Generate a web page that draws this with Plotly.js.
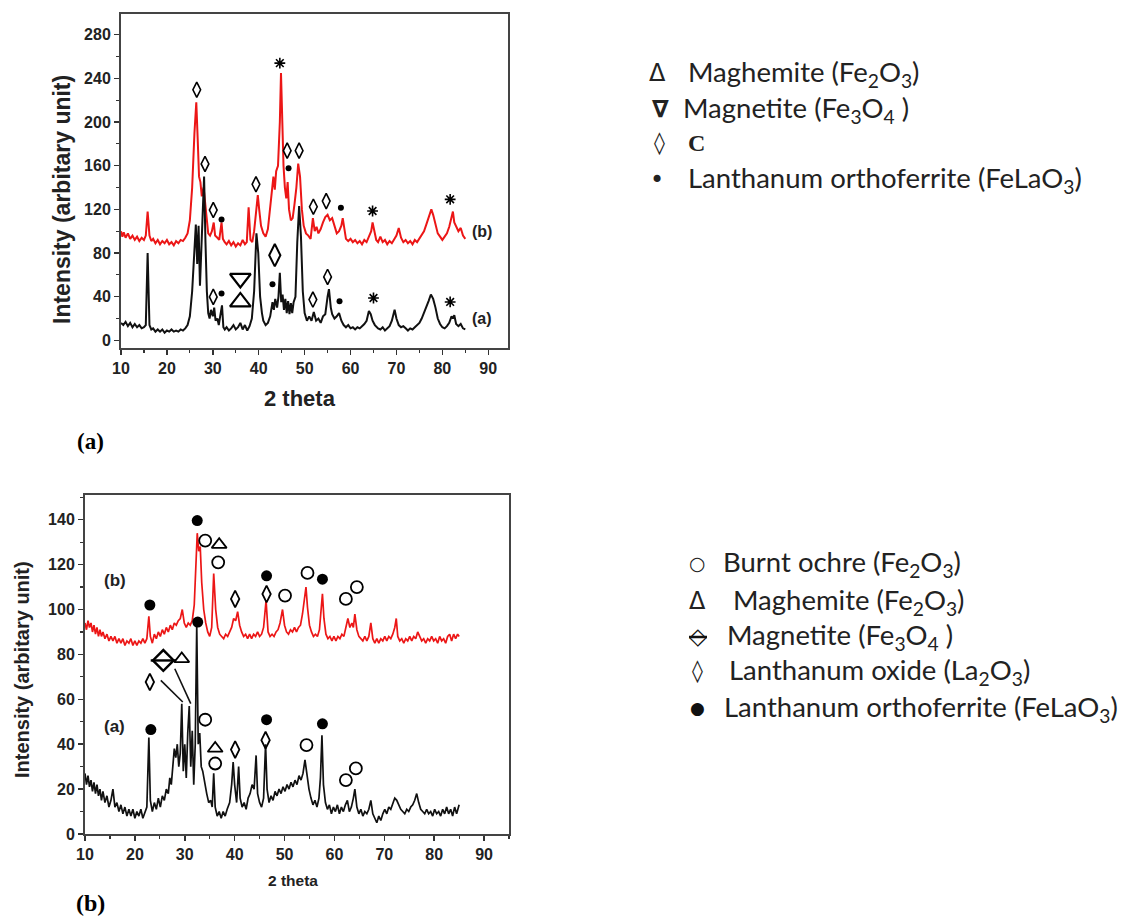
<!DOCTYPE html>
<html><head><meta charset="utf-8">
<script src="https://cdn.plot.ly/plotly-3.0.1.min.js"></script>
<style>html,body{margin:0;padding:0;background:#fff}#c{width:1128px;height:921px}</style>
</head><body><div id="c"></div>
<script>
// ---------- Panel (a): XRD patterns ----------
const topAx = [10,10.5,11,11.5,12,12.5,13,13.5,14,14.5,15,15.4,15.8,16.2,16.6,17,17.5,18,18.5,19,19.5,20,20.5,21,21.5,22,22.5,23,23.5,24,24.5,25,25.5,26,26.3,26.6,26.9,27.2,27.5,27.8,28.1,28.4,28.7,29,29.3,29.6,30,30.3,30.6,31,31.3,31.6,32,32.3,32.6,33,33.5,34,34.5,35,35.5,36,36.5,37,37.5,38,38.5,39,39.5,39.9,40.3,40.7,41,41.5,42,42.5,43,43.3,43.6,44,44.3,44.6,44.9,45.2,45.5,45.8,46.1,46.4,46.7,47,47.3,47.6,48,48.4,48.8,49.2,49.6,50,50.5,51,51.5,52,52.5,53,53.5,54,54.5,55,55.3,55.7,56,56.5,57,57.5,58,58.5,59,59.5,60,60.5,61,61.5,62,62.5,63,63.5,64,64.4,64.8,65.3,66,66.5,67,67.5,68,68.5,69,69.6,70,70.5,71,71.5,72,72.5,73,73.5,74,74.5,75,75.5,76,76.5,77,77.5,78,78.5,79,79.5,80,80.5,81,81.5,82,82.3,82.6,83,83.5,84,84.5,85];
const topAy = [16,14,17,13,16,12,15,12,14,11,12,14,80,14,10,11,8,10,8,10,7,9,8,10,8,9,8,10,9,11,14,22,45,90,106,70,105,50,80,105,150,90,45,25,20,28,22,30,18,20,14,22,32,12,10,12,9,11,14,10,12,16,10,14,9,13,20,45,98,80,40,25,18,14,16,22,35,28,38,30,40,62,35,42,28,38,25,36,24,34,25,35,40,90,123,95,45,25,18,22,18,26,18,20,16,22,24,40,47,30,24,20,22,25,18,14,12,14,11,12,10,12,11,13,15,18,27,24,18,14,11,10,12,9,11,13,18,28,20,14,12,13,11,9,11,10,12,14,16,20,25,30,36,42,38,30,20,15,12,11,13,16,22,20,23,15,13,15,11,10];
const topBx = [10,10.3,10.6,11,11.5,12,12.5,13,13.5,14,14.5,15,15.4,15.8,16.2,16.6,17,17.5,18,18.5,19,19.5,20,20.5,21,21.5,22,22.5,23,23.5,24,24.5,25,25.5,26,26.4,26.7,27,27.3,27.6,28,28.3,28.6,29,29.4,29.8,30.2,30.5,31,31.4,31.9,32.2,32.6,33,33.5,34,34.5,35,35.5,36,36.5,37,37.4,37.8,38.2,38.6,39,39.5,39.8,40.1,40.5,41,41.5,42,42.4,42.8,43.2,43.5,43.8,44.2,44.6,44.85,45.1,45.4,45.7,46,46.3,46.6,47,47.4,47.8,48.2,48.6,49,49.4,49.8,50.3,50.8,51.3,51.8,52.2,52.6,53,53.5,54,54.5,55,55.5,56,56.5,57,57.5,58,58.3,58.7,59,59.5,60,60.5,61,61.5,62,62.5,63,63.5,64,64.5,64.8,65.2,65.6,66,66.5,67,67.5,68,68.5,69,69.5,70,70.5,71,71.5,72,72.5,73,73.5,74,74.5,75,75.5,76,76.5,77,77.6,78,78.5,79,79.5,80,80.5,81,81.5,82,82.3,82.6,83,83.5,84,84.5,85];
const topBy = [100,95,99,94,98,93,96,92,95,91,94,92,96,118,96,91,93,89,92,88,91,89,92,88,90,87,91,89,92,91,94,98,110,140,190,218,185,150,145,132,140,128,110,98,96,100,108,96,94,92,108,93,90,88,91,87,90,86,89,87,92,88,90,122,92,90,100,125,133,120,105,98,95,102,118,140,150,138,155,160,200,245,200,160,140,130,145,120,110,112,125,140,162,150,120,105,98,96,93,112,100,104,98,102,108,113,115,110,112,104,98,100,105,112,98,93,91,93,90,92,89,91,88,92,90,95,100,108,98,92,90,95,90,92,88,91,89,93,96,103,94,90,92,89,91,88,92,90,93,96,100,106,112,120,115,105,98,95,92,95,98,104,112,118,108,104,100,103,96,93];

// phase markers, panel (a)
const topDiamX = [26.5,28.3,30.1,39.4,46.2,48.8,51.9,54.7,30.1,51.8,55.0];
const topDiamY = [229.6,161.6,119.4,143,173.8,173.8,122.4,127.6,39.8,37.4,58.1];
const topBigDiamX = [43.5], topBigDiamY = [78];
const topDotX = [31.9,46.5,57.9,31.9,43.0,57.6];
const topDotY = [110.8,157.7,121.5,42.9,51.4,35.8];
const topStarX = [44.6,64.8,81.7,65.0,81.7];
const topStarY = [254,118.5,129.2,38.8,35.2];
const topMagnetiteX = [36.0], topMagnetiteY = [56.7];
const topMaghemiteX = [36.0], topMaghemiteY = [35.2];

// ---------- Panel (b): XRD patterns ----------
const botAx = [10,10.3,10.6,10.9,11.2,11.5,11.8,12.1,12.4,12.7,13,13.3,13.6,14,14.4,14.8,15.2,15.6,16,16.4,16.8,17.2,17.6,18,18.4,18.8,19.2,19.6,20,20.4,20.8,21.2,21.6,22,22.4,22.8,23.1,23.5,23.9,24.3,24.7,25.1,25.5,25.9,26.3,26.7,27,27.3,27.6,27.9,28.2,28.5,28.8,29.1,29.4,29.7,30,30.3,30.6,30.9,31.2,31.5,31.8,32.1,32.4,32.7,33,33.3,33.6,34,34.4,34.8,35.2,35.5,35.8,36.1,36.5,36.9,37.3,37.7,38.1,38.5,39,39.4,39.7,40,40.4,40.8,41.1,41.5,41.9,42.3,42.7,43.1,43.5,43.9,44.3,44.6,45,45.4,45.8,46.2,46.5,46.9,47.3,47.7,48.1,48.5,48.9,49.3,49.7,50.1,50.5,50.9,51.3,51.7,52.1,52.5,52.9,53.3,53.7,54.1,54.5,54.9,55.3,55.7,56.1,56.5,56.9,57.2,57.5,57.8,58.2,58.6,59,59.4,59.8,60.2,60.6,61,61.4,61.8,62.2,62.6,63,63.4,63.8,64.1,64.5,64.9,65.3,65.7,66.1,66.5,66.9,67.3,67.7,68.1,68.5,68.9,69.3,69.7,70.1,70.5,70.9,71.3,71.7,72.1,72.5,72.9,73.3,73.7,74.1,74.5,74.9,75.3,75.7,76.1,76.5,76.9,77.3,77.7,78.1,78.5,78.9,79.3,79.7,80.1,80.5,80.9,81.3,81.7,82.1,82.5,82.9,83.3,83.7,84.1,84.5,85];
const botAy = [27,22,26,21,24,19,23,18,22,17,20,15,19,14,17,12,15,20,12,14,10,13,9,12,8,11,8,11,7,10,8,11,7,10,12,43,15,10,14,11,16,12,17,15,20,18,25,22,32,38,34,40,30,36,58,28,40,25,45,57,30,46,22,40,93,40,45,30,28,22,18,14,15,12,27,12,8,10,7,10,8,11,14,22,32,22,14,30,16,12,14,11,16,18,22,20,35,18,14,12,16,40,20,14,17,15,19,17,20,18,21,19,22,20,23,21,24,22,26,24,27,33,26,20,16,13,15,12,16,25,44,22,14,11,13,9,12,10,13,9,12,10,13,15,10,12,16,20,12,9,11,8,10,9,11,15,9,7,5,8,6,9,11,9,12,11,14,16,15,13,11,10,9,11,10,12,13,15,18,14,11,10,9,11,9,10,8,11,9,10,8,11,9,12,9,11,8,12,9,13];
const botBx = [10,10.3,10.6,10.9,11.2,11.5,11.8,12.1,12.4,12.7,13,13.3,13.6,14,14.4,14.8,15.2,15.6,16,16.4,16.8,17.2,17.6,18,18.4,18.8,19.2,19.6,20,20.4,20.8,21.2,21.6,22,22.4,22.8,23.1,23.5,23.9,24.3,24.7,25.1,25.5,25.9,26.3,26.7,27.1,27.5,27.9,28.3,28.7,29.1,29.5,29.9,30.3,30.7,31.1,31.5,31.9,32.2,32.5,32.8,33.1,33.4,33.8,34.2,34.6,35,35.4,35.8,36.2,36.6,37,37.4,37.8,38.2,38.6,39,39.4,39.8,40.2,40.6,41,41.4,41.8,42.2,42.6,43,43.4,43.8,44.2,44.6,45,45.4,45.8,46.3,46.7,47.1,47.5,47.9,48.3,48.7,49.1,49.6,50,50.4,50.8,51.2,51.6,52,52.4,52.8,53.2,53.6,54,54.3,54.6,55,55.4,55.8,56.2,56.6,57,57.3,57.6,57.9,58.3,58.7,59.1,59.5,59.9,60.3,60.7,61.1,61.5,61.9,62.3,62.7,63.1,63.5,63.8,64.1,64.5,64.9,65.3,65.7,66.1,66.5,66.9,67.3,67.7,68.1,68.5,68.9,69.3,69.7,70.1,70.5,70.9,71.3,71.7,72.1,72.4,72.7,73.1,73.5,73.9,74.3,74.7,75.1,75.5,75.9,76.3,76.7,77.1,77.5,77.9,78.3,78.7,79.1,79.5,79.9,80.3,80.7,81.1,81.5,81.9,82.3,82.7,83.1,83.5,83.9,84.3,84.7,85];
const botBy = [94,91,95,92,94,90,93,89,92,88,91,88,90,87,89,86,88,86,88,85,87,85,87,84,86,85,87,84,86,84,86,85,87,85,87,97,88,85,89,87,90,88,91,89,92,90,93,91,94,93,95,96,100,94,92,94,93,95,102,115,134,126,128,112,100,94,90,88,92,116,100,92,89,88,87,89,88,90,92,96,95,99,93,90,88,89,87,89,87,89,88,90,88,89,92,104,90,88,89,88,90,91,94,100,93,90,89,91,90,92,90,92,93,98,106,110,101,93,90,88,89,88,91,100,107,96,89,87,88,86,88,86,88,87,89,88,92,96,92,94,92,98,91,88,87,86,88,86,88,94,87,85,87,85,87,86,88,86,88,87,89,92,96,88,86,87,85,87,86,88,86,88,87,90,88,86,87,85,87,86,88,86,87,85,88,86,87,85,88,89,86,89,87,89,88];

// phase markers, panel (b)
const botCircX = [34.1,36.7,50.1,54.6,62.3,64.5,34.1,36.1,54.4,62.3,64.3];
const botCircY = [130.7,121,106.2,116.3,104.7,110,50.9,31.4,39.6,24,29.2];
const botDotX = [23.0,32.5,46.4,57.6,32.6,23.2,46.4,57.6];
const botDotY = [102,139.6,115,113.5,94.4,46.5,50.9,49.1];
const botTriX = [36.9,29.4,36.1];
const botTriY = [128.9,78,38.1];
const botDiamX = [40.1,46.4,23.0,40.1,46.2];
const botDiamY = [104.7,106.9,67.7,37.6,41.8];
const botMagX = [25.7], botMagY = [77.3];
// leader lines from labels to the (a) peaks
const lead1X = [25.2,29.6], lead1Y = [68.4,58.8];
const lead2X = [28.0,31.2], lead2Y = [73.6,58.1];

const RED = 'rgb(236,22,22)', BLK = '#111';
function mk(x,y,xa,ya,sym,size,lw){
  return {x:x,y:y,xaxis:xa,yaxis:ya,type:'scatter',mode:'markers',hoverinfo:'skip',
    marker:{symbol:sym,size:size,color:'#000',line:{color:'#000',width:lw}}};
}
function ln(x,y,xa,ya,color,w){
  return {x:x,y:y,xaxis:xa,yaxis:ya,type:'scatter',mode:'lines',hoverinfo:'skip',line:{color:color,width:w}};
}
const data = [
  ln(topBx,topBy,'x','y',RED,2),
  ln(topAx,topAy,'x','y',BLK,2),
  mk(topDiamX,topDiamY,'x','y','diamond-tall-open',11,1.6),
  mk(topBigDiamX,topBigDiamY,'x','y','diamond-tall-open',16,2),
  mk(topDotX,topDotY,'x','y','circle',6,0),
  mk(topStarX,topStarY,'x','y','asterisk-open',9,1.6),
  mk(topMagnetiteX,topMagnetiteY,'x','y','triangle-down-open',18,2.2),
  mk(topMaghemiteX,topMaghemiteY,'x','y','triangle-up-open',18,2.2),
  ln(botBx,botBy,'x2','y2',RED,1.7),
  ln(botAx,botAy,'x2','y2',BLK,1.7),
  ln(lead1X,lead1Y,'x2','y2',BLK,1.6),
  ln(lead2X,lead2Y,'x2','y2',BLK,1.6),
  mk(botCircX,botCircY,'x2','y2','circle-open',12,1.8),
  mk(botDotX,botDotY,'x2','y2','circle',11,0),
  mk(botTriX,botTriY,'x2','y2','triangle-up-open',13,1.8),
  mk(botDiamX,botDiamY,'x2','y2','diamond-tall-open',12,1.8),
  mk(botMagX,botMagY,'x2','y2','diamond-open',16,2.4),
  mk(botMagX,botMagY,'x2','y2','line-ew-open',18,2.4)
];

const W=1128, H=921;
const PX = v => v/W, PY = v => 1 - v/H;
const tf = {family:'Arial, Liberation Sans', size:16, color:'#222', weight:'bold'};
function axis(dom, rng, dt, mdt, anchor){
  return {domain:dom, range:rng, anchor:anchor, dtick:dt, tick0:0, ticks:'outside', ticklen:5, tickwidth:1.5,
    tickcolor:'#333', showline:true, mirror:true, linecolor:'#444', linewidth:2, showgrid:false, zeroline:false,
    tickfont:tf, minor:{ticks:'outside', ticklen:3, dtick:mdt, tickcolor:'#333', tickwidth:1.2}};
}
const legFont = {family:'Lato, Open Sans', size:27.5, color:'#222'};
const symFont = {family:'DejaVu Sans', size:24, color:'#222'};
function txt(x,y,t,font,opt){
  return Object.assign({xref:'paper',yref:'paper',x:PX(x),y:PY(y),text:t,showarrow:false,font:font,xanchor:'left',yanchor:'middle'},opt||{});
}
const AF = s => ({family:'Arial, Liberation Sans',size:s,color:'#222',weight:'bold'});
const annotations = [
  // axis titles
  txt(62,200,'Intensity (arbitary unit)',AF(23),{textangle:-90,xanchor:'center'}),
  txt(300,398,'2 theta',AF(22),{xanchor:'center'}),
  txt(22,670,'Intensity (arbitary unit)',AF(20),{textangle:-90,xanchor:'center'}),
  txt(293,880,'2 theta',AF(15.5),{xanchor:'center'}),
  // curve labels
  {xref:'x',yref:'y',x:88.6,y:99.5,text:'(b)',showarrow:false,font:AF(16)},
  {xref:'x',yref:'y',x:88.6,y:19.9,text:'(a)',showarrow:false,font:AF(16)},
  {xref:'x2',yref:'y2',x:16.0,y:112.9,text:'(b)',showarrow:false,font:AF(17)},
  {xref:'x2',yref:'y2',x:16.0,y:47.7,text:'(a)',showarrow:false,font:AF(17)},
  // figure labels
  txt(90,441,'<b>(a)</b>',{family:'Liberation Serif',size:23,color:'#000'},{xanchor:'center'}),
  txt(90,903,'<b>(b)</b>',{family:'Liberation Serif',size:24,color:'#000'},{xanchor:'center'}),
  // top legend
  txt(657,73,'Δ',symFont,{xanchor:'center'}),
  txt(686,73,'Maghemite (Fe<sub>2</sub>O<sub>3</sub>)',legFont),
  txt(660,109,'<b>∇</b>',{family:'DejaVu Sans',size:24,color:'#222'},{xanchor:'center'}),
  txt(681,109,'Magnetite (Fe<sub>3</sub>O<sub>4</sub> )',legFont),
  txt(659,143,'◊',{family:'DejaVu Sans',size:22,color:'#222',weight:'bold'},{xanchor:'center'}),
  txt(686,143,'<b>C</b>',{family:'Liberation Serif',size:24,color:'#222'}),
  txt(657,180,'•',{family:'DejaVu Sans',size:24,color:'#222'},{xanchor:'center'}),
  txt(686,180,'Lanthanum orthoferrite (FeLaO<sub>3</sub>)',legFont),
  // bottom legend
  txt(697,563,'○',{family:'DejaVu Sans',size:19,color:'#222'},{xanchor:'center'}),
  txt(721,563,'Burnt ochre (Fe<sub>2</sub>O<sub>3</sub>)',legFont),
  txt(697,601,'Δ',symFont,{xanchor:'center'}),
  txt(731,601,'Maghemite (Fe<sub>2</sub>O<sub>3</sub>)',legFont),
  txt(698,636,'<b>◇</b>',{family:'DejaVu Sans',size:23,color:'#111'},{xanchor:'center'}),
  txt(725,636,'Magnetite (Fe<sub>3</sub>O<sub>4</sub> )',legFont),
  txt(697,671,'◊',{family:'DejaVu Sans',size:22,color:'#222',weight:'bold'},{xanchor:'center'}),
  txt(727,671,'Lanthanum oxide (La<sub>2</sub>O<sub>3</sub>)',legFont),
  txt(697,708,'●',{family:'DejaVu Sans',size:17,color:'#111'},{xanchor:'center'}),
  txt(722,708,'Lanthanum orthoferrite (FeLaO<sub>3</sub>)',legFont)
];
const shapes = [
  {type:'line',xref:'paper',yref:'paper',x0:PX(689),x1:PX(707),y0:PY(637),y1:PY(637),line:{color:'#111',width:2.5}}
];
const layout = {
  width:W, height:H, margin:{l:0,r:0,t:0,b:0}, showlegend:false,
  paper_bgcolor:'#fff', plot_bgcolor:'#fff',
  xaxis: axis([PX(121),PX(508)],[10,94.3],10,5,'y'),
  yaxis: axis([PY(348),PY(14)],[-7,299],40,20,'x'),
  xaxis2: axis([PX(85),PX(509)],[10,95],10,5,'y2'),
  yaxis2: axis([PY(834),PY(495)],[0,151],20,10,'x2'),
  annotations: annotations, shapes: shapes
};
Plotly.newPlot('c', data, layout, {staticPlot:true});
</script></body></html>
